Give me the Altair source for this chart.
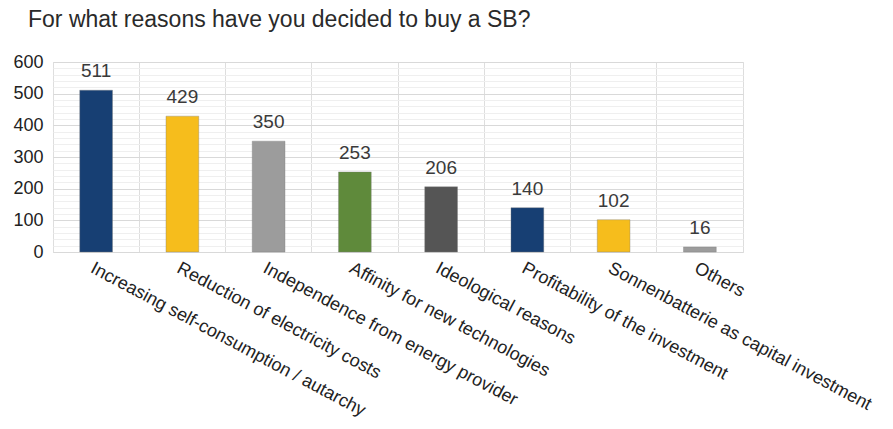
import altair as alt
import pandas as pd

categories = [
    "Increasing self-consumption / autarchy",
    "Reduction of electricity costs",
    "Independence from energy provider",
    "Affinity for new technologies",
    "Ideological reasons",
    "Profitability of the investment",
    "Sonnenbatterie as capital investment",
    "Others",
]
counts = [511, 429, 350, 253, 206, 140, 102, 16]
bar_colors = ["#173f73", "#f6bd1c", "#9c9c9c", "#5f8a3b", "#555555", "#173f73", "#f6bd1c", "#9c9c9c"]
major_ticks = [0, 100, 200, 300, 400, 500, 600]
minor_ticks = [v for v in range(0, 601, 20) if v % 100 != 0]

df = pd.DataFrame({"reason": categories, "count": counts, "color": bar_colors})

FONT = "Liberation Sans"

x_enc = alt.X(
    "reason:N",
    sort=None,
    title=None,
    scale=alt.Scale(paddingInner=0, paddingOuter=0),
    axis=alt.Axis(
        labelAngle=28,
        labelAlign="left",
        labelBaseline="top",
        labelPadding=7,
        labelFontSize=18,
        labelFont=FONT,
        labelColor="#222222",
        labelLimit=500,
        ticks=False,
        domain=False,
        grid=True,
        gridColor="#dedede",
        bandPosition=0,
    ),
)

y_scale = alt.Scale(domain=[0, 600], nice=False)

bars = alt.Chart(df).mark_bar(
    width={"band": 0.38}, stroke="#7a7a7a", strokeWidth=0.6, strokeOpacity=0.6
).encode(
    x=x_enc,
    y=alt.Y(
        "count:Q",
        scale=y_scale,
        title=None,
        axis=alt.Axis(
            values=major_ticks,
            labelFontSize=18,
            labelFont=FONT,
            labelColor="#222222",
            labelPadding=10,
            ticks=False,
            domain=False,
            grid=True,
            gridColor="#d9d9d9",
        ),
    ),
    color=alt.Color("color:N", scale=None),
)

labels = alt.Chart(df).mark_text(
    baseline="bottom", dy=-9, fontSize=19, font=FONT, color="#3a3a3a"
).encode(
    x=alt.X("reason:N", sort=None),
    y=alt.Y(
        "count:Q",
        scale=y_scale,
        axis=alt.Axis(
            orient="right",
            values=minor_ticks,
            labels=False,
            ticks=False,
            domain=False,
            grid=True,
            gridColor="#efefef",
            title=None,
        ),
    ),
    text="count:Q",
)

chart = (
    alt.layer(bars, labels)
    .resolve_axis(y="independent")
    .properties(
        width=690,
        height=190,
        autosize=alt.AutoSizeParams(type="none"),
        padding={"left": 45, "top": 54, "right": 142, "bottom": 168},
        title=alt.TitleParams(
            "For what reasons have you decided to buy a SB?",
            anchor="start",
            frame="group",
            dx=-25,
            offset=21,
            fontSize=23,
            font=FONT,
            fontWeight="normal",
            color="#2a2a2a",
        ),
    )
    .configure_view(stroke="#dedede", strokeWidth=1)
    .configure(background="white")
)

chart.save("out.html", embed_options={"renderer": "svg", "actions": False})
